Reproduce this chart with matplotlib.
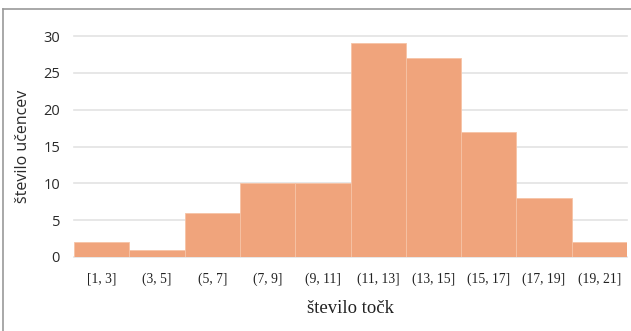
import matplotlib
matplotlib.use("Agg")
import matplotlib.pyplot as plt
from matplotlib.lines import Line2D

categories = ["[1, 3]", "(3, 5]", "(5, 7]", "(7, 9]", "(9, 11]", "(11, 13]",
              "(13, 15]", "(15, 17]", "(17, 19]", "(19, 21]"]
counts = [2, 1, 6, 10, 10, 29, 27, 17, 8, 2]
yticks = [0, 5, 10, 15, 20, 25, 30]

fig = plt.figure(figsize=(6.31, 3.31), dpi=100)
ax = fig.add_axes([74/631, 1-257/331, 553/631, (257-36)/331])

x = list(range(len(categories)))
ax.bar(x, counts, width=1.0, color="#F0A47C", edgecolor="#F6C3A6", linewidth=0.6, zorder=3)
ax.set_xlim(-0.5, len(categories)-0.5)
ax.set_ylim(0, 30)
ax.set_yticks(yticks)
ax.set_yticklabels([str(v) for v in yticks], fontsize=10.5, color="#2a2a2a",
                   family="Open Sans", fontweight="medium")
ax.set_xticks(x)
ax.set_xticklabels(categories, fontsize=9.8, family="Liberation Serif", color="#222222")
ax.tick_params(length=0)
ax.tick_params(axis="y", pad=10)
ax.tick_params(axis="x", pad=11)
ax.yaxis.grid(True, color="#E3E3E3", linewidth=1.2, zorder=0)
ax.set_axisbelow(True)
for s in ax.spines.values():
    s.set_visible(False)
for gl in ax.get_ygridlines():
    gl.set_clip_on(False)

ax.set_ylabel("število učencev", fontsize=11.5, family="Open Sans", color="#2a2a2a",
              fontweight="medium", labelpad=9)
ax.set_xlabel("število točk", fontsize=13.5, family="Liberation Serif", color="#222222", labelpad=10)

fig.add_artist(Line2D([3/631, 3/631], [0, 1-9/331], transform=fig.transFigure, color="#999999", linewidth=1.2))
fig.add_artist(Line2D([3/631, 1], [1-9/331, 1-9/331], transform=fig.transFigure, color="#999999", linewidth=1.2))

fig.savefig("out.png", dpi=100)
